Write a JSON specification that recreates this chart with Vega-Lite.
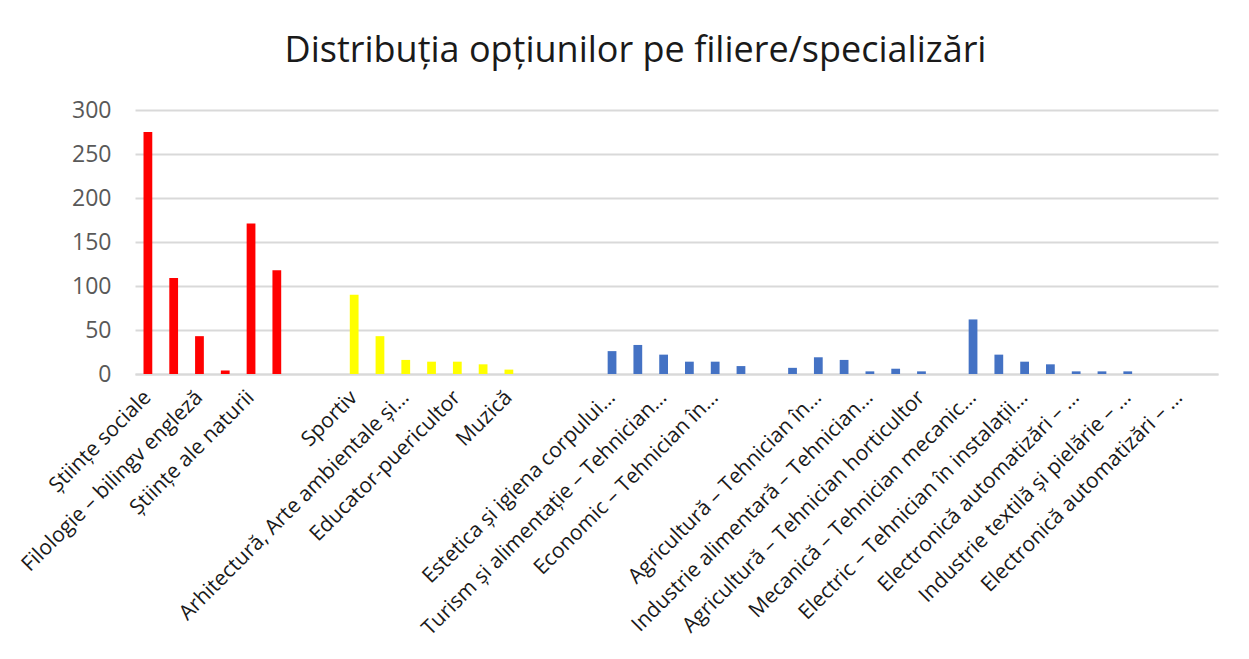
{
  "$schema": "https://vega.github.io/schema/vega-lite/v6.json",
  "autosize": {"type": "none"},
  "padding": {"left": 135, "top": 110, "right": 31, "bottom": 285},
  "width": 1083,
  "height": 264,
  "background": "white",
  "title": {
    "text": "Distribuția opțiunilor pe filiere/specializări",
    "font": "Open Sans",
    "fontSize": 36,
    "fontWeight": "normal",
    "color": "#1a1a1a",
    "anchor": "middle",
    "dx": -41,
    "offset": 29
  },
  "data": {
    "values": [
      {"cat": "00|Științe sociale", "filiera": "Teoretică", "elevi": 275},
      {"cat": "01|", "filiera": "Teoretică", "elevi": 109},
      {"cat": "02|Filologie – bilingv engleză", "filiera": "Teoretică", "elevi": 43},
      {"cat": "03|", "filiera": "Teoretică", "elevi": 4},
      {"cat": "04|Științe ale naturii", "filiera": "Teoretică", "elevi": 171},
      {"cat": "05|", "filiera": "Teoretică", "elevi": 118},
      {"cat": "06|", "filiera": "Teoretică", "elevi": 0},
      {"cat": "07|", "filiera": "Teoretică", "elevi": 0},
      {"cat": "08|Sportiv", "filiera": "Vocațională", "elevi": 90},
      {"cat": "09|", "filiera": "Vocațională", "elevi": 43},
      {"cat": "10|Arhitectură, Arte ambientale și…", "filiera": "Vocațională", "elevi": 16},
      {"cat": "11|", "filiera": "Vocațională", "elevi": 14},
      {"cat": "12|Educator-puericultor", "filiera": "Vocațională", "elevi": 14},
      {"cat": "13|", "filiera": "Vocațională", "elevi": 11},
      {"cat": "14|Muzică", "filiera": "Vocațională", "elevi": 5},
      {"cat": "15|", "filiera": "Vocațională", "elevi": 0},
      {"cat": "16|", "filiera": "Vocațională", "elevi": 0},
      {"cat": "17|", "filiera": "Vocațională", "elevi": 0},
      {"cat": "18|Estetica și igiena corpului…", "filiera": "Tehnologică", "elevi": 26},
      {"cat": "19|", "filiera": "Tehnologică", "elevi": 33},
      {"cat": "20|Turism și alimentație – Tehnician…", "filiera": "Tehnologică", "elevi": 22},
      {"cat": "21|", "filiera": "Tehnologică", "elevi": 14},
      {"cat": "22|Economic – Tehnician în…", "filiera": "Tehnologică", "elevi": 14},
      {"cat": "23|", "filiera": "Tehnologică", "elevi": 9},
      {"cat": "24|", "filiera": "Tehnologică", "elevi": 0},
      {"cat": "25|", "filiera": "Tehnologică", "elevi": 7},
      {"cat": "26|Agricultură – Tehnician în…", "filiera": "Tehnologică", "elevi": 19},
      {"cat": "27|", "filiera": "Tehnologică", "elevi": 16},
      {"cat": "28|Industrie alimentară – Tehnician…", "filiera": "Tehnologică", "elevi": 3},
      {"cat": "29|", "filiera": "Tehnologică", "elevi": 6},
      {"cat": "30|Agricultură – Tehnician horticultor", "filiera": "Tehnologică", "elevi": 3},
      {"cat": "31|", "filiera": "Tehnologică", "elevi": 0},
      {"cat": "32|Mecanică – Tehnician mecanic…", "filiera": "Tehnologică", "elevi": 62},
      {"cat": "33|", "filiera": "Tehnologică", "elevi": 22},
      {"cat": "34|Electric – Tehnician în instalații…", "filiera": "Tehnologică", "elevi": 14},
      {"cat": "35|", "filiera": "Tehnologică", "elevi": 11},
      {"cat": "36|Electronică automatizări – …", "filiera": "Tehnologică", "elevi": 3},
      {"cat": "37|", "filiera": "Tehnologică", "elevi": 3},
      {"cat": "38|Industrie textilă și pielărie – …", "filiera": "Tehnologică", "elevi": 3},
      {"cat": "39|", "filiera": "Tehnologică", "elevi": 0},
      {"cat": "40|Electronică automatizări – …", "filiera": "Tehnologică", "elevi": 0},
      {"cat": "41|", "filiera": "Tehnologică", "elevi": 0}
    ]
  },
  "mark": {"type": "bar"},
  "encoding": {
    "x": {
      "field": "cat",
      "type": "ordinal",
      "sort": null,
      "scale": {"paddingInner": 0.66, "paddingOuter": 0.33},
      "axis": {
        "title": null,
        "labelExpr": "split(datum.value, '|')[1]",
        "labelAngle": -45,
        "labelAlign": "right",
        "labelBaseline": "middle",
        "labelFont": "Open Sans",
        "labelFontSize": 21,
        "labelColor": "#1a1a1a",
        "labelPadding": 20,
        "labelLimit": 500,
        "labelOverlap": false,
        "ticks": false,
        "domainColor": "#d9d9d9",
        "domainWidth": 2,
        "grid": false
      }
    },
    "y": {
      "field": "elevi",
      "type": "quantitative",
      "scale": {"domain": [0, 300]},
      "axis": {
        "title": null,
        "values": [0, 50, 100, 150, 200, 250, 300],
        "labelFont": "Open Sans",
        "labelFontSize": 23,
        "labelColor": "#595959",
        "labelPadding": 24,
        "ticks": false,
        "domain": false,
        "gridColor": "#d9d9d9",
        "gridWidth": 2
      }
    },
    "color": {
      "field": "filiera",
      "type": "nominal",
      "scale": {"domain": ["Teoretică", "Vocațională", "Tehnologică"], "range": ["#ff0000", "#ffff00", "#4472c4"]},
      "legend": null
    }
  },
  "config": {"view": {"stroke": null}}
}
